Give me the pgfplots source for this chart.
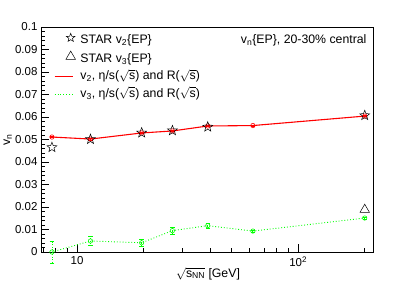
\documentclass[border=0pt]{standalone}
\usepackage{pgfplots}
\pgfplotsset{compat=1.18}
\usepackage{fontspec}
\setmainfont{Liberation Sans}
\usetikzlibrary{plotmarks}
\pgfdeclareplotmark{ostar}{%
  \pgfpathmoveto{\pgfpointpolar{90}{\pgfplotmarksize}}%
  \pgfpathlineto{\pgfpointpolar{126}{0.42\pgfplotmarksize}}%
  \pgfpathlineto{\pgfpointpolar{162}{\pgfplotmarksize}}%
  \pgfpathlineto{\pgfpointpolar{198}{0.42\pgfplotmarksize}}%
  \pgfpathlineto{\pgfpointpolar{234}{\pgfplotmarksize}}%
  \pgfpathlineto{\pgfpointpolar{270}{0.42\pgfplotmarksize}}%
  \pgfpathlineto{\pgfpointpolar{306}{\pgfplotmarksize}}%
  \pgfpathlineto{\pgfpointpolar{342}{0.42\pgfplotmarksize}}%
  \pgfpathlineto{\pgfpointpolar{18}{\pgfplotmarksize}}%
  \pgfpathlineto{\pgfpointpolar{54}{0.42\pgfplotmarksize}}%
  \pgfpathclose\pgfusepathqstroke}
\pgfplotsset{
  linelegend/.style={legend image code/.code={\draw[#1] (0bp,0bp) -- (18bp,0bp);}},
  marklegend/.style={legend image code/.code={\draw[#1] plot coordinates {(16bp,3bp)};}},
}
\newcommand{\rs}{\ensuremath{\sqrt{\hbox{s}}}}
\newcommand{\fs}{\fontsize{12.3bp}{14bp}\selectfont}
\begin{document}
\begin{tikzpicture}
\path[use as bounding box] (-41bp,-29bp) rectangle (374bp,252bp);
\begin{axis}[
  at={(0,0)}, anchor=south west,
  scale only axis, width=332bp, height=225bp,
  xmode=log, xmin=6.87, xmax=218, ymin=0, ymax=0.1,
  xtick={10,100}, xticklabels={10,10\textsuperscript{2}},
  minor xtick={7,8,9,20,30,40,50,60,70,80,90,200},
  ytick={0,0.01,0.02,0.03,0.04,0.05,0.06,0.07,0.08,0.09,0.1},
  yticklabels={0,0.01,0.02,0.03,0.04,0.05,0.06,0.07,0.08,0.09,0.1},
  minor y tick num=4,
  tick align=inside, tick pos=left,
  major tick length=8bp, minor tick length=4bp,
  every tick/.style={black, line width=0.5pt},
  axis line style={black, line width=0.6pt},
  tick label style={font=\fontsize{11.5bp}{13bp}\selectfont},
  /pgf/number format/assume math mode=true,
  xticklabel style={yshift=-1bp},
  label style={font=\fs},
  xlabel={\ensuremath{\sqrt{\hbox{s\textsubscript{NN}}}} [GeV]},
  xlabel style={at={(axis description cs:0.503,-0.098)}, anchor=center},
  ylabel={v\textsubscript{n}},
  ylabel style={at={(axis description cs:-0.1,0.5)}, anchor=center},
  legend style={at={(rel axis cs:0.039,0.973)}, anchor=north west, draw=none, fill=none,
    font=\fs, inner sep=0pt, row sep=3.3bp, column sep=4bp,
    nodes={inner sep=1bp, text height=9bp, text depth=3bp}},
  legend cell align=left,
  clip=false,
]
% red v2 model
\addplot[red, line width=1.1pt, mark=o, mark size=2.2bp, mark options={solid, line width=0.6pt}, forget plot,
  error bars/.cd, y dir=both, y explicit]
  table[x=x, y=y, y error=e] {
x y e
7.7 0.0511 0.0003
11.5 0.0502 0.0003
19.6 0.0529 0.0003
27 0.0538 0.0003
39 0.0560 0.0003
62.4 0.0562 0.0002
200 0.0604 0.0002
};
% green v3 model
\addplot[green, line width=0.9pt, dotted, mark=o, mark size=2.2bp, mark options={solid, line width=0.6pt}, forget plot,
  error bars/.cd, y dir=both, y explicit, error bar style={dotted, line width=0.8pt}]
  table[x=x, y=y, y error=e] {
x y e
7.7 0.0000 0.0050
11.5 0.0049 0.0020
19.6 0.0041 0.0015
27 0.0095 0.0015
39 0.0117 0.0010
62.4 0.0093 0.0004
200 0.0151 0.0004
};
% STAR v2
\addplot[only marks, black, mark=ostar, mark size=5.2bp, line width=0.5pt, forget plot]
  coordinates {(7.7,0.0465) (11.5,0.0501) (19.6,0.0530) (27,0.0540) (39,0.0556) (200,0.0607)};
% STAR v3
\addplot[only marks, black, mark=triangle, mark size=5.5bp, line width=0.5pt, forget plot]
  coordinates {(200,0.0188)};
\addlegendimage{marklegend={black, line width=0.5pt, only marks, mark=ostar, mark size=4.5bp}}
\addlegendentry{STAR v\textsubscript{2}\{EP\}}
\addlegendimage{marklegend={black, line width=0.5pt, only marks, mark=triangle, mark size=5.5bp}}
\addlegendentry{STAR v\textsubscript{3}\{EP\}}
\addlegendimage{linelegend={red, line width=1.1pt}}
\addlegendentry{v\textsubscript{2}, η/s(\rs) and R(\rs)}
\addlegendimage{linelegend={green, dotted, line width=0.9pt}}
\addlegendentry{v\textsubscript{3}, η/s(\rs) and R(\rs)}
\node[anchor=base east, inner sep=0pt, font=\fs]
  at (rel axis cs:0.981,0.9276) {v\textsubscript{n}\{EP\}, 20-30\% central};
\end{axis}
\end{tikzpicture}
\end{document}
